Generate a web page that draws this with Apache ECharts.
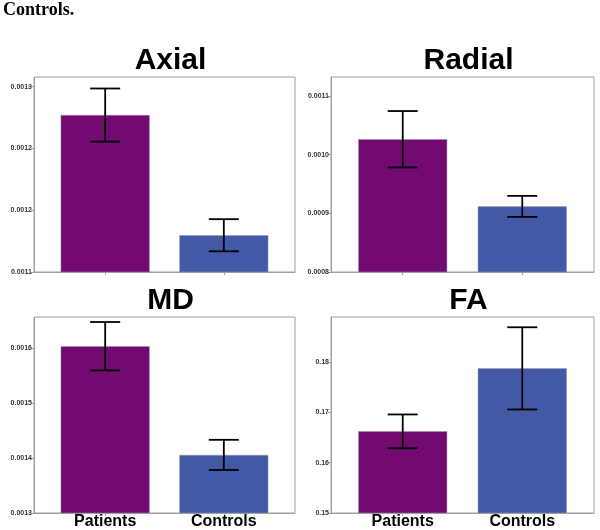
<!DOCTYPE html>
<html>
<head>
<meta charset="utf-8">
<script src="https://cdn.jsdelivr.net/npm/echarts@6/dist/echarts.min.js"></script>
<style>html,body{margin:0;padding:0;background:#fff;}#c{width:600px;height:530px;}</style>
</head>
<body>
<div id="c"></div>
<script>
// ---- data ----
const categories = ["Patients", "Controls"];
const panelTitles = ["Axial", "Radial", "MD", "FA"];

const axialMean = [0.001277, 0.00117975];
const axialSE = [0.0000215, 0.000013];
const radialMean = [0.0010262, 0.0009118];
const radialSE = [0.000048, 0.0000179];
const mdMean = [0.0016032, 0.00140565];
const mdSE = [0.000044, 0.0000274];
const faMean = [0.16623, 0.17875];
const faSE = [0.00336, 0.00817];

const axialTicks = [0.00115, 0.0012, 0.00125, 0.0013];
const axialTickLabels = ["0.0011", "0.0012", "0.0012", "0.0013"];
const radialTicks = [0.0008, 0.0009, 0.0010, 0.0011];
const radialTickLabels = ["0.0008", "0.0009", "0.0010", "0.0011"];
const mdTicks = [0.0013, 0.0014, 0.0015, 0.0016];
const mdTickLabels = ["0.0013", "0.0014", "0.0015", "0.0016"];
const faTicks = [0.15, 0.16, 0.17, 0.18];
const faTickLabels = ["0.15", "0.16", "0.17", "0.18"];

const yRanges = [[0.00115, 0.0013078], [0.0008, 0.0011322], [0.0013, 0.0016563], [0.15, 0.18896]];

// ---- layout ----
const panels = [
  {means: axialMean, se: axialSE, ticks: axialTicks, labels: axialTickLabels, grid: {left: 34, top: 77, width: 261, height: 195}, showX: false, titleTop: 46},
  {means: radialMean, se: radialSE, ticks: radialTicks, labels: radialTickLabels, grid: {left: 331, top: 77, width: 263, height: 195}, showX: false, titleTop: 46},
  {means: mdMean, se: mdSE, ticks: mdTicks, labels: mdTickLabels, grid: {left: 34, top: 317, width: 261, height: 196}, showX: true, titleTop: 286},
  {means: faMean, se: faSE, ticks: faTicks, labels: faTickLabels, grid: {left: 331, top: 317, width: 263, height: 196}, showX: true, titleTop: 286}
];
const barColors = ["#720a71", "#425aa6"];
const axisGray = "#a0a0a0";

const grids = [], xAxes = [], yAxes = [], series = [], titles = [];
titles.push({text: "Controls.", left: 3, top: 1, padding: 0, textStyle: {fontFamily: "Liberation Serif", fontWeight: "bold", fontSize: 18, color: "#000"}});

panels.forEach((p, i) => {
  grids.push(Object.assign({show: true, borderColor: axisGray, borderWidth: 1, backgroundColor: "#fff"}, p.grid));
  titles.push({
    text: panelTitles[i], left: p.grid.left + p.grid.width / 2 + 6, top: p.titleTop, padding: 0, textAlign: "center",
    textStyle: {fontFamily: "Liberation Sans", fontWeight: "bold", fontSize: 30, color: "#000"}
  });
  xAxes.push({
    type: "value", gridIndex: i, min: 0.4, max: 2.6,
    axisLine: {show: true, onZero: false, lineStyle: {color: axisGray, width: 1}},
    axisTick: {show: true, length: 3, customValues: [1, 2], lineStyle: {color: axisGray}},
    axisLabel: {
      show: p.showX, customValues: [1, 2], margin: 1,
      formatter: v => categories[Math.round(v) - 1] || "",
      fontFamily: "Liberation Sans", fontWeight: "bold", fontSize: 16, color: "#000"
    },
    splitLine: {show: false}
  });
  const ticks = p.ticks, labs = p.labels;
  yAxes.push({
    type: "value", gridIndex: i, min: yRanges[i][0], max: yRanges[i][1],
    axisLine: {show: true, lineStyle: {color: axisGray, width: 1}},
    axisTick: {show: true, length: 3, customValues: ticks, lineStyle: {color: axisGray}},
    axisLabel: {
      customValues: ticks, margin: 2,
      formatter: v => {
        let best = 0;
        ticks.forEach((t, k) => { if (Math.abs(t - v) < Math.abs(ticks[best] - v)) best = k; });
        return labs[best];
      },
      fontFamily: "Liberation Sans", fontWeight: "bold", fontSize: 7, color: "#333"
    },
    splitLine: {show: false}
  });
  series.push({
    type: "bar", xAxisIndex: i, yAxisIndex: i, barWidth: 89,
    data: p.means.map((m, k) => ({value: [k + 1, m], itemStyle: {color: barColors[k]}})),
    itemStyle: {borderColor: "#9a9aa8", borderWidth: 0.5},
    silent: true
  });
  series.push({
    type: "custom", xAxisIndex: i, yAxisIndex: i, z: 10, silent: true,
    data: p.means.map((m, k) => [k + 1, m - p.se[k], m + p.se[k]]),
    renderItem: (params, api) => {
      const x = api.value(0);
      const lo = api.coord([x, api.value(1)]);
      const hi = api.coord([x, api.value(2)]);
      const hw = 15;
      const st = {stroke: "#000", lineWidth: 1.8};
      return {type: "group", children: [
        {type: "line", shape: {x1: hi[0], y1: hi[1], x2: lo[0], y2: lo[1]}, style: st},
        {type: "line", shape: {x1: hi[0] - hw, y1: hi[1], x2: hi[0] + hw, y2: hi[1]}, style: st},
        {type: "line", shape: {x1: lo[0] - hw, y1: lo[1], x2: lo[0] + hw, y2: lo[1]}, style: st}
      ]};
    }
  });
});

const chart = echarts.init(document.getElementById("c"), null, {renderer: "canvas"});
chart.setOption({
  animation: false,
  backgroundColor: "#fff",
  title: titles,
  grid: grids,
  xAxis: xAxes,
  yAxis: yAxes,
  series: series
});
</script>
</body>
</html>
